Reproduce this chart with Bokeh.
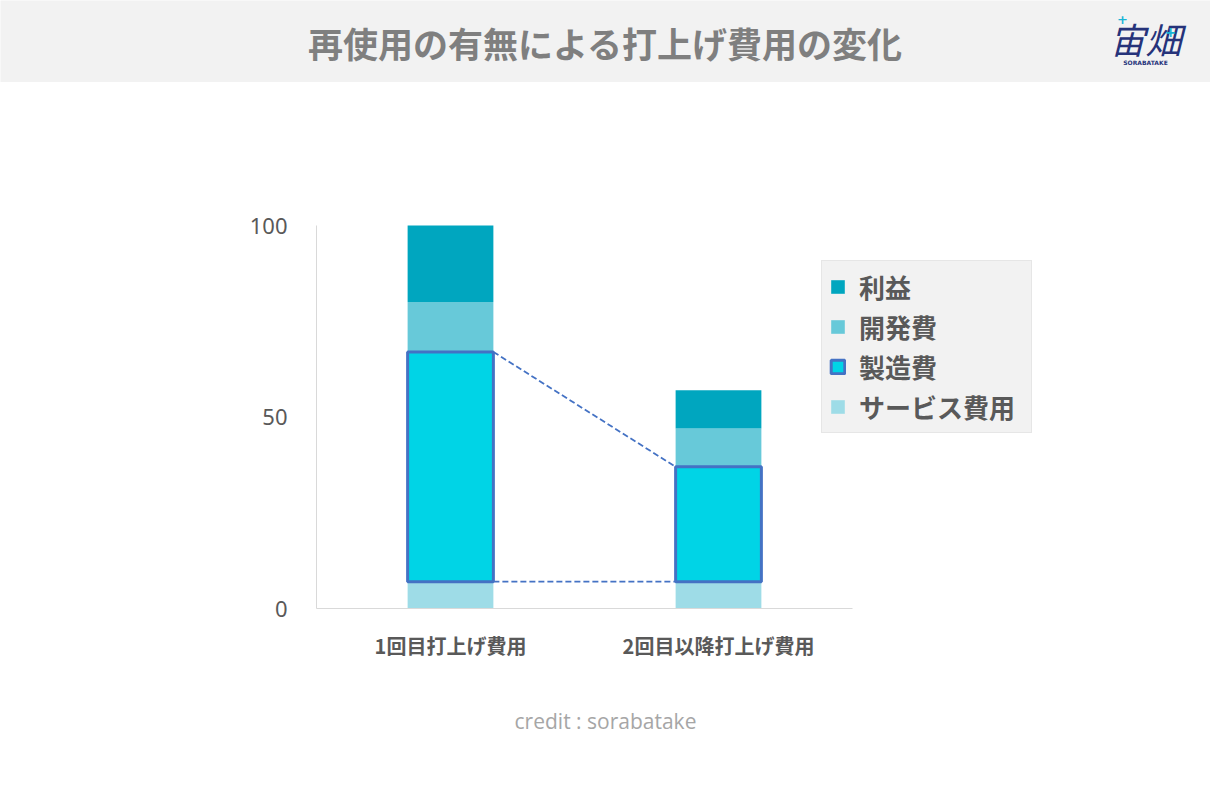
import numpy as np
from bokeh.plotting import figure
from bokeh.layouts import column
from bokeh.models import Range1d, FixedTicker, Label, Legend, LegendItem
from bokeh.embed import file_html
from bokeh.resources import INLINE

# ---- data ----
categories = ["1回目打上げ費用", "2回目以降打上げ費用"]
service = [7, 7]            # サービス費用
manufacturing = [60, 30]    # 製造費
development = [13, 10]      # 開発費
profit = [20, 10]           # 利益
y_ticks = [0, 50, 100]
y_max = 100
title_text = "再使用の有無による打上げ費用の変化"
credit_text = "credit : sorabatake"

# ---- styles ----
C_PROFIT = "#00A6BF"
C_DEV = "#67C9D9"
C_MFG = "#00D4E6"
C_MFG_LINE = "#4472C4"
C_SERVICE = "#9EDCE7"
JP = "Noto Sans CJK JP"

PAGE_W = 1210
HEAD_H = 82
MAIN_BOTTOM = 680
FOOT_H = 118


def plain(fig, bg):
    fig.outline_line_color = None
    fig.background_fill_color = bg
    fig.border_fill_color = bg
    fig.xgrid.visible = False
    fig.ygrid.visible = False
    try:
        fig.frame_align = False
    except Exception:
        pass


# ---------- header ----------
head = figure(width=PAGE_W, height=HEAD_H, output_backend="svg", toolbar_location=None,
              x_range=Range1d(0, PAGE_W), y_range=Range1d(HEAD_H, 0),
              x_axis_location=None, y_axis_location=None, min_border=0)
plain(head, "#F2F2F2")

head.add_layout(Label(x=605, y=42, text=title_text,
                      text_align="center", text_baseline="middle", text_font=JP,
                      text_font_style="bold", text_font_size="35px", text_color="#7F7F7F"))
head.add_layout(Label(x=1145, y=37, text="宙畑",
                      text_align="center", text_baseline="middle", text_font=JP,
                      text_font_style="italic", text_font_size="36px", text_color="#26337A"))
head.add_layout(Label(x=1145, y=62, text="SORABATAKE",
                      text_align="center", text_baseline="middle", text_font="DejaVu Sans",
                      text_font_style="bold", text_font_size="6px", text_color="#26337A"))
head.add_layout(Label(x=1122, y=19, text="+",
                      text_align="center", text_baseline="middle", text_font="DejaVu Sans",
                      text_font_style="bold", text_font_size="13px", text_color="#19B5D6"))
head.add_layout(Label(x=1170, y=31, text="+",
                      text_align="center", text_baseline="middle", text_font="DejaVu Sans",
                      text_font_style="bold", text_font_size="14px", text_color="#19B5D6"))

# ---------- main chart ----------
H = MAIN_BOTTOM - HEAD_H
AX_L, AX_R = 316, 852          # page x of the category axis extent
AX_T, AX_B = 225, 608          # page y of y=100 and y=0
x_end = len(categories) * (PAGE_W - AX_L) / (AX_R - AX_L)
y_end = y_max * (AX_B - HEAD_H) / (AX_B - AX_T)

p = figure(width=PAGE_W, height=H, output_backend="svg", toolbar_location=None,
           x_range=Range1d(0, x_end), y_range=Range1d(0, y_end),
           min_border_left=AX_L, min_border_right=0,
           min_border_top=0, min_border_bottom=MAIN_BOTTOM - AX_B)
plain(p, "white")

xc = np.arange(len(categories)) + 0.5
bw = 0.32
s = np.array(service, float)
m = np.array(manufacturing, float)
d = np.array(development, float)
pr = np.array(profit, float)

r_service = p.vbar(x=xc, width=bw, bottom=0, top=s, fill_color=C_SERVICE, line_color=C_SERVICE, line_width=0)
r_dev = p.vbar(x=xc, width=bw, bottom=s + m, top=s + m + d, fill_color=C_DEV, line_color=C_DEV, line_width=0)
r_profit = p.vbar(x=xc, width=bw, bottom=s + m + d, top=s + m + d + pr, fill_color=C_PROFIT, line_color=C_PROFIT, line_width=0)

# connector dashed lines between manufacturing blocks
p.line(x=[xc[0] + bw / 2, xc[1] - bw / 2], y=[s[0] + m[0], s[1] + m[1]],
       line_color=C_MFG_LINE, line_dash="6 3", line_width=1.8)
p.line(x=[xc[0] + bw / 2, xc[1] - bw / 2], y=[s[0], s[1]],
       line_color=C_MFG_LINE, line_dash="6 3", line_width=1.8)

r_mfg = p.vbar(x=xc, width=bw, bottom=s, top=s + m, fill_color=C_MFG, line_color=C_MFG_LINE, line_width=3)

# axes (bounded to the data extent)
p.yaxis.bounds = (0, y_max)
p.yaxis.ticker = FixedTicker(ticks=y_ticks)
p.yaxis.axis_line_color = "#D9D9D9"
p.yaxis.major_tick_line_color = None
p.yaxis.minor_tick_line_color = None
p.yaxis.major_label_standoff = 23
p.yaxis.major_label_text_font = "Noto Sans"
p.yaxis.major_label_text_font_size = "22px"
p.yaxis.major_label_text_color = "#595959"

p.xaxis.bounds = (0, len(categories))
p.xaxis.ticker = FixedTicker(ticks=list(xc))
p.xaxis.major_label_overrides = {float(x): c for x, c in zip(xc, categories)}
p.xaxis.axis_line_color = "#D9D9D9"
p.xaxis.major_tick_line_color = None
p.xaxis.minor_tick_line_color = None
p.xaxis.major_label_standoff = 16
p.xaxis.major_label_text_font = JP
p.xaxis.major_label_text_font_style = "bold"
p.xaxis.major_label_text_font_size = "20px"
p.xaxis.major_label_text_color = "#595959"

# legend
legend = Legend(items=[
    LegendItem(label="利益", renderers=[r_profit]),
    LegendItem(label="開発費", renderers=[r_dev]),
    LegendItem(label="製造費", renderers=[r_mfg]),
    LegendItem(label="サービス費用", renderers=[r_service]),
], location=(821 - AX_L, AX_B - 433))
legend.background_fill_color = "#F2F2F2"
legend.background_fill_alpha = 1
legend.border_line_color = "#D9D9D9"
legend.border_line_width = 1
legend.label_text_font = JP
legend.label_text_font_style = "bold"
legend.label_text_font_size = "26px"
legend.label_text_color = "#595959"
legend.glyph_width = 17
legend.glyph_height = 17
legend.label_standoff = 13
legend.label_width = 165
legend.padding = 7
legend.spacing = 3
legend.margin = 0
p.add_layout(legend, "center")

# ---------- footer ----------
foot = figure(width=PAGE_W, height=FOOT_H, output_backend="svg", toolbar_location=None,
              x_range=Range1d(0, PAGE_W), y_range=Range1d(FOOT_H, 0),
              x_axis_location=None, y_axis_location=None, min_border=0)
plain(foot, "white")
foot.add_layout(Label(x=605, y=720 - MAIN_BOTTOM, text=credit_text,
                      text_align="center", text_baseline="middle", text_font="Open Sans",
                      text_font_size="21px", text_color="#A6A6A6"))

open("out.html", "w").write(file_html(column(head, p, foot, spacing=0), INLINE))
